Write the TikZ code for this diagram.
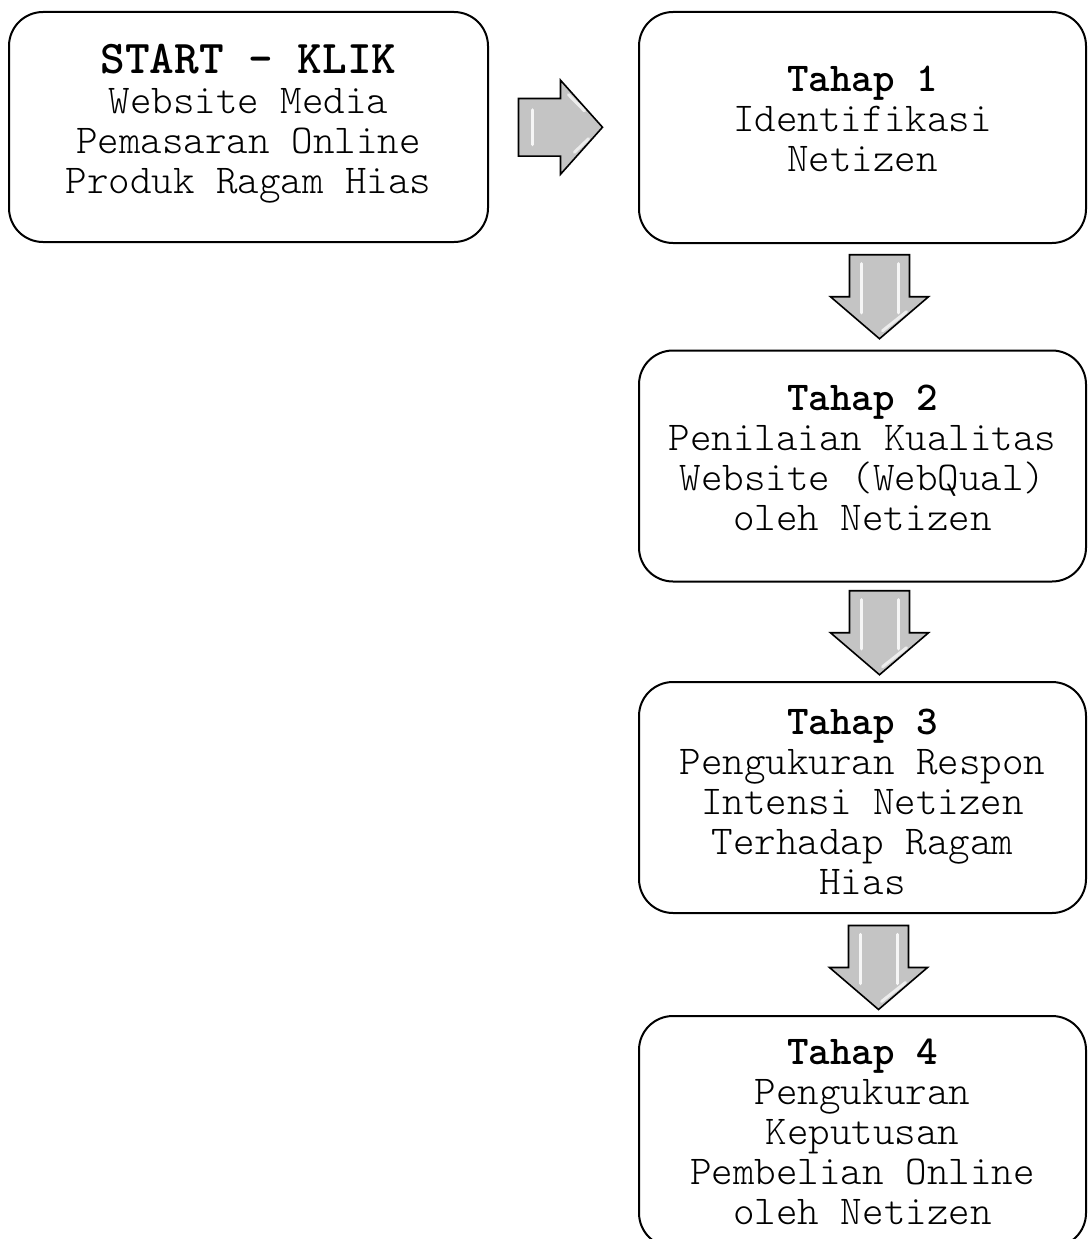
\documentclass[tikz,border=0pt]{standalone}
\usepackage{fontspec}
\usetikzlibrary{calc}
\newfontfamily\kurir{lmmonolt10-regular}[Extension=.otf, BoldFont=lmmonolt10-bold]
\newcommand{\tinggi}{\rule{0pt}{35pt}}
\definecolor{abu}{RGB}{196,196,196}
\tikzset{
	kotak/.style={draw, line width=2pt, rounded corners=34pt, align=center, inner sep=0pt,
		minimum width=447pt, minimum height=231pt, font=\kurir\fontsize{41}{40}\selectfont},
	naik/.style={text depth=17pt},
	panah/.pic={
		\draw[line width=1.6pt, fill=abu, line join=miter] (-42,-30) -- (0,-30) -- (0,-49) -- (42,0) -- (0,49) -- (0,30) -- (-42,30) -- cycle;
		\draw[white, line width=3.5pt, line cap=round, opacity=0.85] (-33,-19) -- (16,-19);
		\draw[white, line width=3.5pt, line cap=round, opacity=0.85] (-33,18) -- (16,18);
		\draw[white, line width=3pt, line cap=round, opacity=0.7] (15,-27) -- (34,-3);
	},
	panah kanan/.pic={
		\draw[line width=1.6pt, fill=abu, line join=miter] (-42,-30) -- (0,-30) -- (0,-49) -- (42,0) -- (0,49) -- (0,30) -- (-42,30) -- cycle;
		\draw[white, line width=3.5pt, line cap=round, opacity=0.85] (-28,-18) -- (-28,18);
		\draw[white, line width=3pt, line cap=round, opacity=0.7] (8,-34) -- (24,-17);
		\draw[white, line width=3pt, line cap=round, opacity=0.7] (14,26) -- (28,12);
	}
}
\begin{document}
\begin{tikzpicture}[x=1pt, y=-1pt]
	\useasboundingbox (0,0) rectangle (1087,1239);
	% kotak awal dan tahapan
	\node[kotak, naik, minimum width=479pt, minimum height=230pt] (mulai) at (248.5,127) {{\fontsize{47}{44}\selectfont\bfseries START - KLIK}\\Website Media\\Pemasaran Online\\Produk Ragam Hias};
	\node[kotak, naik] (t1) at (862.5,127.5) {{\bfseries Tahap 1}\\Identifikasi\\Netizen};
	\node[kotak, naik] (t2) at (862.5,466) {{\bfseries Tahap 2}\\Penilaian Kualitas\\Website (WebQual)\\oleh Netizen};
	\node[kotak] (t3) at (862.5,797.5) {\tinggi{\bfseries Tahap 3}\\Pengukuran Respon\\Intensi Netizen\\Terhadap Ragam\\Hias};
	\node[kotak] (t4) at (862.5,1131.5) {{\bfseries Tahap 4}\\Pengukuran\\Keputusan\\Pembelian Online\\oleh Netizen};
	% panah blok
	\pic[yscale=0.96] at ($(mulai.east)!0.5!(t1.west)+(-3,0)$) {panah kanan};
	\pic[rotate=-90] at ($(t1.south)!0.5!(t2.north)+(17,0)$) {panah};
	\pic[rotate=-90] at ($(t2.south)!0.5!(t3.north)+(17,1)$) {panah};
	\pic[rotate=-90] at ($(t3.south)!0.5!(t4.north)+(16,3)$) {panah};
\end{tikzpicture}
\end{document}
